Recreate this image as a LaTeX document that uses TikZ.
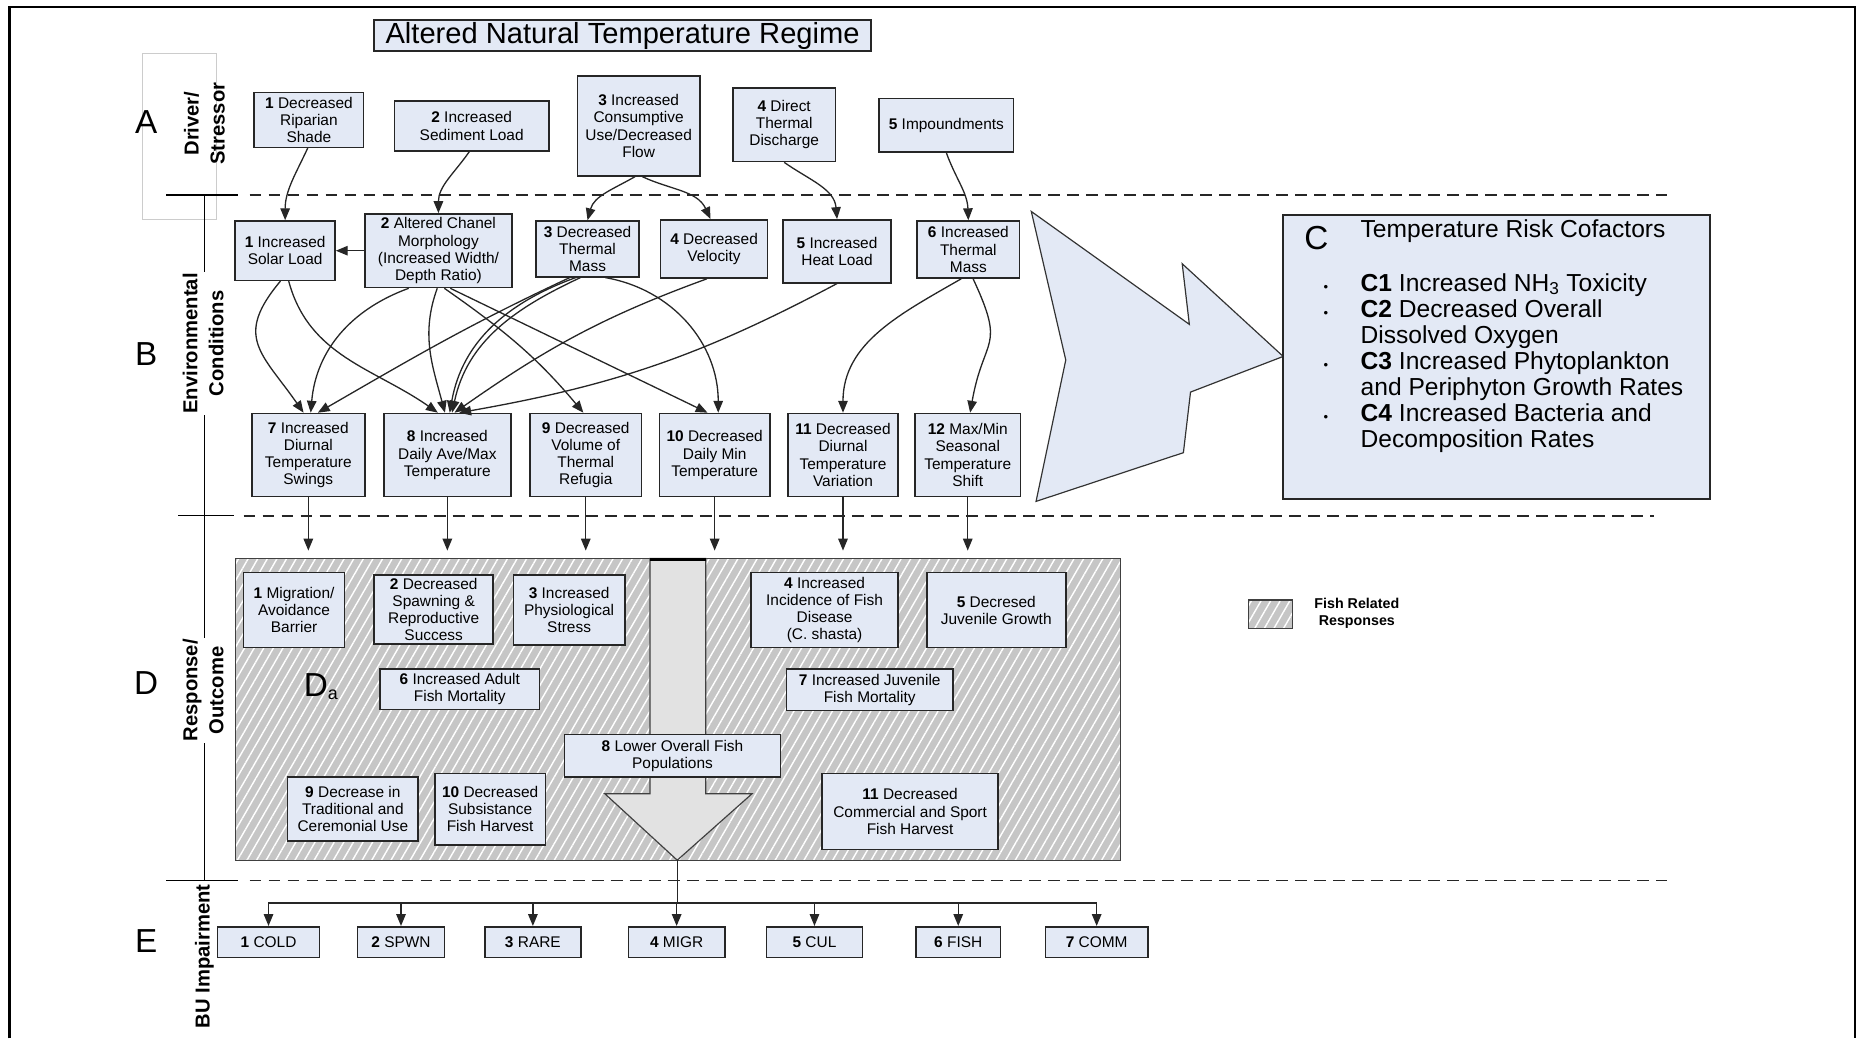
\documentclass[tikz,border=0pt]{standalone}
\usepackage{fontspec}
\setmainfont{Liberation Sans}
\usetikzlibrary{arrows.meta,patterns.meta,calc}
\definecolor{boxfill}{RGB}{227,233,245}
\definecolor{hatchgray}{RGB}{198,198,198}
\definecolor{arrowgray}{RGB}{226,226,226}
\begin{document}
\begin{tikzpicture}[x=1pt,y=1pt,
  box/.style={draw=black!85, line width=1.3pt, fill=boxfill, align=center, inner sep=0pt, font=\fontsize{13}{14.5}\selectfont},
  arr/.style={draw=black!85, line width=1.1pt, -{Triangle[length=10pt,width=8pt]}},
  divline/.style={draw=black!85, line width=1.5pt, dash pattern=on 10pt off 6pt},
  solidtick/.style={draw=black, line width=1.3pt},
  sidelab/.style={rotate=90, align=center, fill=white, inner sep=1pt, font=\fontsize{17}{22}\selectfont\bfseries},
  biglet/.style={font=\fontsize{28}{30}\selectfont, inner sep=0pt},
  ctext/.style={anchor=base west, inner sep=0pt, font=\fontsize{20.7}{22}\selectfont},
  cbul/.style={anchor=base, inner sep=0pt, font=\fontsize{11}{12}\selectfont},
  hatch/.style={draw=black!75, line width=1pt, preaction={fill=hatchgray}, pattern={Lines[angle=60,distance=7pt,line width=1.2pt]}, pattern color=white},
]
\useasboundingbox (0,0) rectangle (1568,-874);
% frame
\draw[line width=2pt] (8,-874) -- (8,-6) -- (1561,-6) -- (1561,-874);
% driver grey box
\draw[draw=black!20, line width=1pt] (120,-45) rectangle (182,-185);
% dividers
\draw[solidtick] (140,-164) -- (200,-164);
\draw[divline] (210,-164) -- (1403,-164);
\draw[solidtick] (150,-434) -- (197,-434);
\draw[divline] (205,-434) -- (1392,-434);
\draw[solidtick] (140,-741) -- (200,-741);
\draw[divline] (210,-741) -- (1403,-741);
% vertical axis
\draw[solidtick] (172,-164) -- (172,-741);
% side labels
\node[sidelab, fill=none] (labAB) at (172,-104) {Driver/\\Stressor};
\node[sidelab] (labBB) at (171,-289) {Environmental\\Conditions};
\node[sidelab] (labDB) at (171,-581) {Response/\\Outcome};
\node[sidelab] (labEB) at (172,-805) {BU Impairment};
\node[biglet] (letA) at (123,-103) {A};
\node[biglet] (letB) at (123,-298) {B};
\node[biglet] (letD) at (123,-575) {D};
\node[biglet] (letE) at (123,-792) {E};
% title
\node[box, font=\fontsize{24.5}{26}\selectfont, minimum width=418, minimum height=26] (title) at (524,-30) {Altered Natural Temperature Regime};
% A boxes
\node[box, minimum width=92, minimum height=46] (a1) at (260,-101) {\textbf{1} Decreased\\Riparian\\Shade};
\node[box, minimum width=130, minimum height=42] (a2) at (397,-106) {\textbf{2} Increased\\Sediment Load};
\node[box, minimum width=103, minimum height=84] (a3) at (537.5,-106) {\textbf{3} Increased\\Consumptive\\Use/Decreased\\Flow};
\node[box, minimum width=86, minimum height=62] (a4) at (660,-105) {\textbf{4} Direct\\Thermal\\Discharge};
\node[box, minimum width=113, minimum height=45] (a5) at (796.5,-105.5) {\textbf{5} Impoundments};
% B row 1
\node[box, minimum width=84, minimum height=50] (b1) at (240,-211) {\textbf{1} Increased\\Solar Load};
\node[box, minimum width=124, minimum height=62] (b2) at (369,-211) {\textbf{2} Altered Chanel\\Morphology\\(Increased Width/\\Depth Ratio)};
\node[box, minimum width=87, minimum height=47] (b3) at (494.5,-209.5) {\textbf{3} Decreased\\Thermal\\Mass};
\node[box, minimum width=90, minimum height=49] (b4) at (601,-209.5) {\textbf{4} Decreased\\Velocity};
\node[box, minimum width=91, minimum height=53] (b5) at (704.5,-211.5) {\textbf{5} Increased\\Heat Load};
\node[box, minimum width=86, minimum height=48] (b6) at (815,-210) {\textbf{6} Increased\\Thermal\\Mass};
% B row 2
\node[box, minimum width=95, minimum height=70] (b7) at (259.5,-383) {\textbf{7} Increased\\Diurnal\\Temperature\\Swings};
\node[box, minimum width=107, minimum height=70] (b8) at (376.5,-383) {\textbf{8} Increased\\Daily Ave/Max\\Temperature};
\node[box, minimum width=94, minimum height=70] (b9) at (493,-383) {\textbf{9} Decreased\\Volume of\\Thermal\\Refugia};
\node[box, minimum width=93, minimum height=70] (b10) at (601.5,-383) {\textbf{10} Decreased\\Daily Min\\Temperature};
\node[box, minimum width=93, minimum height=70] (b11) at (709.5,-383) {\textbf{11} Decreased\\Diurnal\\Temperature\\Variation};
\node[box, minimum width=89, minimum height=70] (b12) at (814.5,-383) {\textbf{12} Max/Min\\Seasonal\\Temperature\\Shift};
% chevron
\filldraw[fill=boxfill, draw=black!80, line width=1pt] (868,-178) -- (1001,-273) -- (995,-222) -- (1080,-300) -- (1002,-330) -- (996,-381) -- (872,-422) -- (897,-303) -- cycle;
% C box
\node[box, minimum width=359, minimum height=239] (cbox) at (1259.5,-300.5) {};
\node[biglet] (cletter) at (1108,-200) {C};
\node[ctext] (ct0) at (1145,-200) {Temperature Risk Cofactors};
\node[ctext] (ct1) at (1145,-245) {\textbf{C1} Increased NH\textsubscript{3} Toxicity};
\node[ctext] (ct2) at (1145,-267) {\textbf{C2} Decreased Overall};
\node[ctext] (ct3) at (1145,-289) {Dissolved Oxygen};
\node[ctext] (ct4) at (1145,-311) {\textbf{C3} Increased Phytoplankton};
\node[ctext] (ct5) at (1145,-333) {and Periphyton Growth Rates};
\node[ctext] (ct6) at (1145,-355) {\textbf{C4} Increased Bacteria and};
\node[ctext] (ct7) at (1145,-377) {Decomposition Rates};
\node[cbul] (bu1) at (1116,-245) {\textbullet};
\node[cbul] (bu2) at (1116,-267) {\textbullet};
\node[cbul] (bu3) at (1116,-311) {\textbullet};
\node[cbul] (bu4) at (1116,-355) {\textbullet};
% A -> B
\draw[arr] ($(a1.south)+(-1,0)$) to[out=-115,in=90] ($(b1.north)+(0,0)$);
\draw[arr] ($(a2.south)+(-2,0)$) to[out=-125,in=90] (b2.north);
\draw[arr] ($(a3.south)+(-3,0)$) to[out=-150,in=75] (b3.north);
\draw[arr] ($(a3.south)+(3,0)$) to[out=-25,in=115] ($(b4.north)+(-3,0)$);
\draw[arr] (a4.south) to[out=-35,in=95] (b5.north);
\draw[arr] (a5.south) to[out=-70,in=92] (b6.north);
\draw[arr] (b2.west) -- (b1.east);
% B -> B
\draw[arr] ($(b1.south)+(-4,0)$) to[out=-130,in=125,looseness=1.4] ($(b7.north)+(-4,0)$);
\draw[arr] ($(b1.south)+(3,0)$) to[out=-75,in=145] ($(b8.north)+(-8,0)$);
\draw[arr] ($(b2.south)+(-25,0)$) to[out=-160,in=85] ($(b7.north)+(2,0)$);
\draw[arr] ($(b2.south)+(-1,0)$) to[out=-110,in=105] ($(b8.north)+(-2,0)$);
\draw[arr] ($(b2.south)+(5,0)$) to[out=-35,in=130] ($(b9.north)+(-2,0)$);
\draw[arr] ($(b2.south)+(10,0)$) -- ($(b10.north)+(-6,0)$);
\draw[arr] ($(b3.south)+(-15,0)$) to[out=-155,in=30] ($(b7.north)+(8,0)$);
\draw[arr] ($(b3.south)+(-10,0)$) to[out=-160,in=80] ($(b8.north)+(2,0)$);
\draw[arr] ($(b3.south)+(-6,0)$) to[out=-155,in=78] ($(b8.north)+(4,0)$);
\draw[arr] ($(b3.south)+(15,0)$) to[out=-10,in=90] ($(b10.north)+(3,0)$);
\draw[arr] ($(b4.south)+(-6,0)$) to[out=-160,in=35] ($(b8.north)+(6,0)$);
\draw[arr] (b5.south) to[out=-152,in=10] ($(b8.north)+(10,0)$);
\draw[arr] ($(b6.south)+(-6,0)$) to[out=-150,in=90] (b11.north);
\draw[arr] ($(b6.south)+(4,0)$) to[out=-65,in=80,looseness=1.5] ($(b12.north)+(2,0)$);
% D region
\node[hatch, minimum width=745, minimum height=254, inner sep=0pt] (dreg) at (570.5,-597) {};
\foreach \b in {b7,b8,b9,b10,b11,b12}
  \draw[arr, shorten >=6pt] (\b.south) -- (\b.south |- dreg.north);
% big down arrow
\coordinate (dtip) at (570,-724);
\filldraw[fill=arrowgray, draw=black!75, line width=1pt] (547,-470) -- (594,-470) -- (594,-668) -- (633,-668) -- (dtip) -- (509,-668) -- (547,-668) -- cycle;
\draw[line width=3pt] (547,-471) -- (594,-471);
% D boxes
\node[biglet] (da) at (270,-578) {D\raisebox{-3pt}{\fontsize{15}{15}\selectfont a}};
\node[box, minimum width=85, minimum height=63] (d1) at (247.5,-513.5) {\textbf{1} Migration/\\Avoidance\\Barrier};
\node[box, minimum width=100, minimum height=58] (d2) at (365,-513) {\textbf{2} Decreased\\Spawning \&\\Reproductive\\Success};
\node[box, minimum width=94, minimum height=59] (d3) at (479,-513.5) {\textbf{3} Increased\\Physiological\\Stress};
\node[box, minimum width=124, minimum height=63] (d4) at (694,-513.5) {\textbf{4} Increased\\Incidence of Fish\\Disease\\(C. shasta)};
\node[box, minimum width=117, minimum height=63] (d5) at (838.5,-513.5) {\textbf{5} Decresed\\Juvenile Growth};
\node[box, minimum width=134, minimum height=34] (d6) at (387,-580) {\textbf{6} Increased Adult\\Fish Mortality};
\node[box, minimum width=140, minimum height=35] (d7) at (732,-580.5) {\textbf{7} Increased Juvenile\\Fish Mortality};
\node[box, minimum width=182, minimum height=36] (d8) at (566,-636) {\textbf{8} Lower Overall Fish\\Populations};
\node[box, minimum width=110, minimum height=54] (d9) at (297,-681) {\textbf{9} Decrease in\\Traditional and\\Ceremonial Use};
\node[box, minimum width=93, minimum height=60] (d10) at (412.5,-681) {\textbf{10} Decreased\\Subsistance\\Fish Harvest};
\node[box, minimum width=148, minimum height=64] (d11) at (766,-683) {\textbf{11} Decreased\\Commercial and Sport\\Fish Harvest};
% legend
\node[hatch, minimum width=37, minimum height=24, inner sep=0pt] (leg) at (1069.5,-517) {};
\node[font=\fontsize{12}{14}\selectfont\bfseries, align=center, inner sep=0pt] (legtxt) at (1142,-516) {Fish Related\\Responses};
% E boxes
\node[box, minimum width=86, minimum height=26] (e1) at (226,-793) {\textbf{1} COLD};
\node[box, minimum width=73, minimum height=26] (e2) at (337.5,-793) {\textbf{2} SPWN};
\node[box, minimum width=81, minimum height=26] (e3) at (448.5,-793) {\textbf{3} RARE};
\node[box, minimum width=81, minimum height=26] (e4) at (569.5,-793) {\textbf{4} MIGR};
\node[box, minimum width=81, minimum height=26] (e5) at (685.5,-793) {\textbf{5} CUL};
\node[box, minimum width=71, minimum height=26] (e6) at (806.5,-793) {\textbf{6} FISH};
\node[box, minimum width=86, minimum height=26] (e7) at (923,-793) {\textbf{7} COMM};
% bus
\coordinate (bus) at (570,-760);
\draw[draw=black!85, line width=1.1pt] (dtip) -- (bus);
\foreach \e in {e1,e2,e3,e4,e5,e6,e7}
  \draw[arr] (bus) -| (\e.north);
\end{tikzpicture}
\end{document}
